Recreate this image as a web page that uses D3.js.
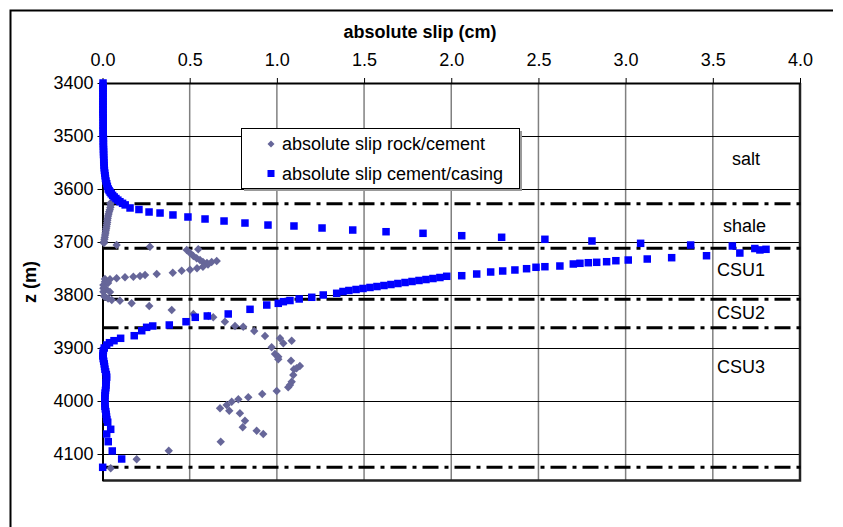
<!DOCTYPE html>
<html>
<head>
<meta charset="utf-8">
<script src="https://cdn.jsdelivr.net/npm/d3@7"></script>
<style>
  html, body { margin: 0; padding: 0; background: #fff; }
  svg { display: block; font-family: "Liberation Sans", Arial, sans-serif; }
</style>
</head>
<body>
<svg id="chart" width="843" height="527"></svg>
<script>
// ---------- data ----------
const xTicks = [0, 0.5, 1.0, 1.5, 2.0, 2.5, 3.0, 3.5, 4.0];
const yTicks = [3400, 3500, 3600, 3700, 3800, 3900, 4000, 4100];
const layerNames = ["salt", "shale", "CSU1", "CSU2", "CSU3"];
const layerLabelZ = [3543, 3670, 3753, 3834, 3936];
const boundaryZ = [3628, 3712, 3808, 3862, 4125];
const seriesNames = ["absolute slip rock/cement", "absolute slip cement/casing"];

// series: [depth z (m), absolute slip (cm)]
const rockCement = [
  [3627,0.045],[3631,0.047],[3635,0.045],[3639,0.042],[3643,0.038],[3647,0.035],[3651,0.032],
  [3655,0.030],[3659,0.028],[3663,0.027],[3667,0.025],[3671,0.023],[3675,0.021],[3679,0.019],
  [3683,0.017],[3687,0.015],[3691,0.013],[3695,0.011],[3699,0.009],[3702,0.008],
  [3705.7,0.081],[3708.9,0.272],[3713.8,0.549],[3715.1,0.483],[3720.8,0.502],[3726.4,0.521],
  [3730.8,0.540],[3734.0,0.559],[3737.7,0.576],[3739.6,0.599],[3737.7,0.626],[3735.8,0.655],
  [3742.5,0.605],[3746.6,0.576],[3749.6,0.542],[3752.3,0.502],[3754.2,0.454],[3757.9,0.403],
  [3760.4,0.311],[3762.3,0.244],[3764.2,0.215],[3765.5,0.177],[3766.6,0.129],[3768.5,0.081],
  [3770.4,0.043],[3769.8,0.014],[3774.9,0.014],[3777.4,0.032],[3781.1,0.005],[3787.4,0.005],
  [3788.7,0.020],[3793.8,0.005],[3794.3,0.043],[3801.9,0.009],[3803.2,0.014],[3806.6,0.032],
  [3809.4,0.053],[3810.8,0.100],[3815.7,0.167],[3820.8,0.268],[3828.3,0.397],[3835.8,0.521],
  [3839.6,0.607],[3842.1,0.635],[3850.4,0.702],[3858.5,0.760],[3859.8,0.807],[3867.9,0.870],
  [3877.4,0.932],[3881.7,1.018],[3886.2,1.085],[3891.1,1.037],[3898.7,0.970],[3911.3,0.989],
  [3916.4,1.008],[3921.3,1.008],[3924.0,1.081],[3934.0,1.132],[3938.3,1.113],[3940.2,1.098],
  [3950.9,1.094],[3963.6,1.085],[3969.8,1.075],[3974.2,1.065],[3981.1,0.999],[3986.8,0.916],
  [3993.0,0.836],[3996.8,0.779],[4001.3,0.741],[4007.5,0.712],[4013.8,0.674],[4018.3,0.727],
  [4023.2,0.788],[4037.2,0.817],[4049.6,0.804],[4056.0,0.884],[4062.3,0.922],[4076.8,0.678],
  [4093.8,0.380],[4110.0,0.196],[4127.0,0.047]
];

const cementCasing = [
  [3400,0.003],[3405,0.003],[3410,0.003],[3415,0.003],[3420,0.003],[3425,0.003],[3430,0.003],
  [3435,0.003],[3440,0.003],[3445,0.003],[3450,0.003],[3455,0.003],[3460,0.003],[3465,0.004],
  [3470,0.004],[3475,0.004],[3480,0.004],[3485,0.004],[3490,0.004],[3495,0.004],[3500,0.004],
  [3505,0.005],[3510,0.005],[3515,0.005],[3520,0.005],[3525,0.006],[3530,0.006],[3535,0.006],
  [3540,0.007],[3545,0.007],[3550,0.008],[3555,0.009],[3560,0.010],[3565,0.011],[3570,0.013],
  [3575,0.015],[3580,0.017],[3585,0.020],[3590,0.024],[3595,0.028],[3600,0.033],[3603,0.038],
  [3606,0.044],[3609,0.050],[3612,0.058],[3615,0.067],[3618,0.077],[3621,0.088],[3624,0.100],
  [3627,0.115],[3630,0.130],
  [3635.8,0.158],[3638.7,0.209],[3643.4,0.267],[3645.3,0.330],[3649.0,0.404],[3652.8,0.490],
  [3656.6,0.588],[3660.4,0.697],[3664.2,0.817],[3668.0,0.949],[3669.8,1.098],[3673.6,1.259],
  [3677.4,1.435],[3680.6,1.626],[3683.6,1.838],[3688.1,2.060],[3691.1,2.289],[3694.9,2.537],
  [3698.1,2.807],[3702.5,3.086],[3705.7,3.373],[3707.5,3.612],[3712.3,3.741],[3715.0,3.770],
  [3713.8,3.805],[3720.8,3.655],[3725.9,3.464],[3729.6,3.264],[3732.1,3.124],[3734.0,3.015],
  [3735.3,2.944],[3737.2,2.891],[3738.3,2.834],[3739.1,2.786],[3740.2,2.738],[3741.5,2.700],
  [3745.3,2.623],[3746.6,2.537],[3747.7,2.486],[3750.4,2.432],[3752.8,2.365],[3754.7,2.295],
  [3756.6,2.226],[3760.4,2.146],[3763.6,2.060],[3764.7,1.974],[3767.0,1.935],[3768.9,1.895],
  [3770.8,1.855],[3772.6,1.815],[3774.5,1.775],[3776.4,1.735],[3778.3,1.694],[3780.2,1.654],
  [3782.1,1.614],[3784.0,1.574],[3785.8,1.534],[3787.7,1.494],[3789.6,1.454],[3791.5,1.413],
  [3793.4,1.379],[3796.8,1.343],[3800.0,1.266],[3804.3,1.200],[3807.5,1.128],[3810.4,1.075],
  [3812.6,1.037],[3815.7,1.008],[3818.9,0.942],[3827.0,0.846],[3835.8,0.721],[3839.6,0.601],
  [3842.1,0.532],[3850.4,0.479],[3856.6,0.383],[3858.5,0.288],[3861.0,0.253],[3867.4,0.225],
  [3876.8,0.182],[3881.7,0.104],[3886.2,0.066],[3890,0.040],[3894.3,0.024],[3900,0.010],
  [3905,0.005],[3910,0.003],[3915,0.002],[3920,0.004],[3925,0.007],[3930,0.010],[3935,0.012],
  [3940,0.014],[3945,0.018],[3950,0.022],[3955,0.024],[3960,0.022],[3965,0.020],[3970,0.020],
  [3975,0.019],[3980,0.017],[3985,0.015],[3990,0.014],[3995,0.013],[4000,0.013],[4005,0.014],
  [4010,0.014],[4015,0.016],[4020,0.019],[4025,0.021],[4030,0.023],[4035,0.025],[4040,0.030],
  [4053.4,0.047],[4062.3,0.024],[4076.8,0.033],[4094.3,0.056],[4109.4,0.110],[4125.1,0.001]
];

// ---------- layout ----------
const svg = d3.select("#chart");
const W = 843, H = 527;
const x = d3.scaleLinear().domain([0, 4]).range([102.5, 800]);
const y = d3.scaleLinear().domain([3400, 4150]).range([83, 480.5]);
const diamondColor = "#666699";
const squareColor = "#0000ff";

// outer chart-area frame (left & top visible)
svg.append("path")
  .attr("d", `M10.5,${H} L10.5,10.5 L833,10.5`)
  .attr("fill", "none").attr("stroke", "#000").attr("stroke-width", 2);

// gridlines
const g = svg.append("g");
g.selectAll("line.vg").data(xTicks.filter(d => d > 0 && d < 4)).join("line")
  .attr("x1", d => x(d)).attr("x2", d => x(d))
  .attr("y1", y(3400)).attr("y2", y(4150))
  .attr("stroke", "#808080").attr("stroke-width", 1.5);
g.selectAll("line.hg").data(yTicks.filter(d => d > 3400)).join("line")
  .attr("x1", x(0)).attr("x2", x(4))
  .attr("y1", d => Math.round(y(d)) + 0.5).attr("y2", d => Math.round(y(d)) + 0.5)
  .attr("stroke", "#000").attr("stroke-width", 1);

// plot border right & bottom
svg.append("path")
  .attr("d", `M${x(4)},${y(3400)} L${x(4)},${y(4150)} L${x(0)},${y(4150)}`)
  .attr("fill", "none").attr("stroke", "#222").attr("stroke-width", 2.5);

// boundary dash-dot lines
svg.selectAll("line.bd").data(boundaryZ).join("line")
  .attr("x1", x(0)).attr("x2", x(4) + 3)
  .attr("y1", d => y(d)).attr("y2", d => y(d))
  .attr("stroke", "#000").attr("stroke-width", 3)
  .attr("stroke-dasharray", "16,6,4,6");

// axes
const xAxis = d3.axisTop(x).tickValues(xTicks).tickFormat(d3.format(".1f")).tickSize(5).tickSizeOuter(0);
const yAxis = d3.axisLeft(y).tickValues(yTicks).tickFormat(d3.format("d")).tickSize(5).tickSizeOuter(0);
const gx = svg.append("g").attr("transform", `translate(0,${y(3400)})`).call(xAxis);
const gy = svg.append("g").attr("transform", `translate(${x(0)},0)`).call(yAxis);
[gx, gy].forEach(a => {
  a.select(".domain").attr("stroke", "#000").attr("stroke-width", 2);
  a.selectAll(".tick line").attr("stroke", "#000");
  a.selectAll(".tick text").attr("fill", "#000").style("font-size", "18px")
    .style("font-family", "'Liberation Sans', Arial, sans-serif");
});
gx.selectAll(".tick text").attr("dy", "0").attr("y", -17);
gy.selectAll(".tick text").attr("x", -9);

// titles
svg.append("text").attr("x", 420).attr("y", 38).attr("text-anchor", "middle")
  .style("font-size", "18px").style("font-weight", "bold").text("absolute slip (cm)");
svg.append("text").attr("transform", "translate(36,282) rotate(-90)").attr("text-anchor", "middle")
  .style("font-size", "18px").style("font-weight", "bold").text("z (m)");

// layer labels
const labelX = [732, 723, 717, 717, 717];
svg.selectAll("text.layer").data(layerNames).join("text")
  .attr("x", (d, i) => labelX[i]).attr("y", (d, i) => y(layerLabelZ[i]) + 6)
  .style("font-size", "18px").text(d => d);

// markers
const dm = 4.2; // half diagonal of diamond
const diamondPath = (cx, cy, r) => `M${cx},${cy - r}L${cx + r},${cy}L${cx},${cy + r}L${cx - r},${cy}Z`;
svg.append("g").selectAll("path").data(rockCement).join("path")
  .attr("d", d => diamondPath(x(d[1]), y(d[0]), dm))
  .attr("fill", diamondColor);
const sq = 7.5;
svg.append("g").selectAll("rect").data(cementCasing).join("rect")
  .attr("x", d => x(d[1]) - sq / 2).attr("y", d => y(d[0]) - sq / 2)
  .attr("width", sq).attr("height", sq).attr("fill", squareColor);

// legend
const lg = svg.append("g");
lg.append("rect").attr("x", 244).attr("y", 131).attr("width", 278).attr("height", 60).attr("fill", "#999");
lg.append("rect").attr("x", 241.5).attr("y", 128.5).attr("width", 278).attr("height", 60)
  .attr("fill", "#fff").attr("stroke", "#000").attr("stroke-width", 1);
lg.append("path").attr("d", diamondPath(271, 144, 3.5)).attr("fill", diamondColor);
lg.append("rect").attr("x", 267.5).attr("y", 170).attr("width", 7).attr("height", 7).attr("fill", squareColor);
lg.selectAll("text").data(seriesNames).join("text")
  .attr("x", 282).attr("y", (d, i) => 150 + i * 29.5)
  .style("font-size", "18px").text(d => d);
</script>
</body>
</html>
